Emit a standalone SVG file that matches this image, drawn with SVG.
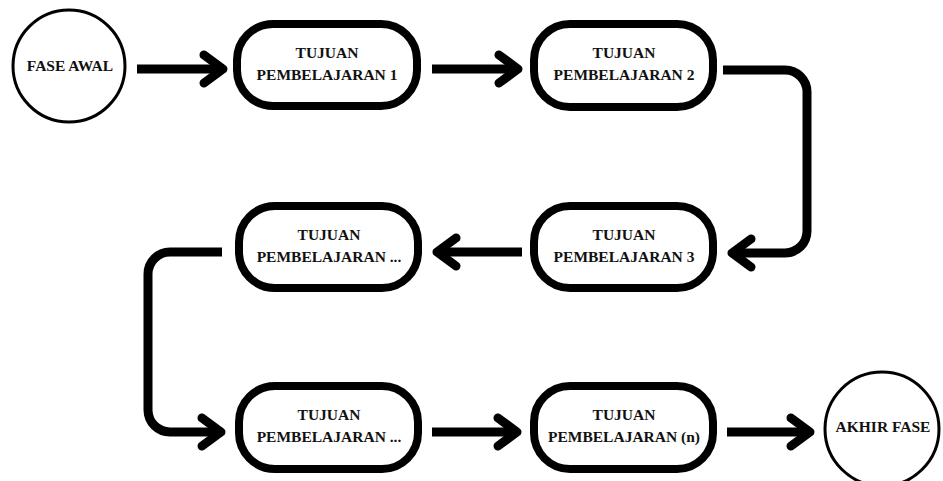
<svg xmlns="http://www.w3.org/2000/svg" width="943" height="481" viewBox="0 0 943 481">
  <style>
    .box { fill: #fff; stroke: #000; stroke-width: 8; }
    .circ { fill: #fff; stroke: #000; stroke-width: 3; }
    .lbl { font-weight: bold; font-size: 15.5px; fill: #111; text-anchor: middle; }
    .conn { fill: none; stroke: #000; stroke-width: 9; stroke-linejoin: round; marker-end: url(#chev); }
  </style>
  <defs>
    <marker id="chev" markerUnits="userSpaceOnUse" markerWidth="60" markerHeight="60" viewBox="-30 -30 60 60" refX="0" refY="0" orient="auto" overflow="visible">
      <path d="M-19,-14 L0,0 L-19,14" fill="none" stroke="#000" stroke-width="9" stroke-linecap="round" stroke-linejoin="round"/>
    </marker>
  </defs>
  <rect width="943" height="481" fill="#fff"/>

  <g id="connectors">
    <path class="conn" d="M137,69 H223"/>
    <path class="conn" d="M432,69 H518"/>
    <path class="conn" d="M723,70 H785 A22,22 0 0 1 807,92 V231 A22,22 0 0 1 785,253 H732"/>
    <path class="conn" d="M522,252 H437"/>
    <path class="conn" d="M222,252 H170 A22,22 0 0 0 148,274 V410 A22,22 0 0 0 170,432 H221"/>
    <path class="conn" d="M432,432 H517"/>
    <path class="conn" d="M727,432 H810"/>
  </g>

  <g font-family="'Liberation Serif', 'Times New Roman', serif">
  <g id="fase-awal">
    <circle class="circ" cx="69" cy="66" r="56"/>
    <text class="lbl" x="70" y="71">FASE AWAL</text>
  </g>

  <g id="tp1">
    <rect class="box" x="237" y="24" width="180" height="82" rx="36"/>
    <text class="lbl" x="327" y="58">TUJUAN</text>
    <text class="lbl" x="327" y="80">PEMBELAJARAN 1</text>
  </g>

  <g id="tp2">
    <rect class="box" x="534" y="24" width="179" height="83" rx="36"/>
    <text class="lbl" x="624" y="58">TUJUAN</text>
    <text class="lbl" x="624" y="80">PEMBELAJARAN 2</text>
  </g>

  <g id="tp3">
    <rect class="box" x="534" y="206" width="179" height="82" rx="36"/>
    <text class="lbl" x="624" y="240">TUJUAN</text>
    <text class="lbl" x="624" y="262">PEMBELAJARAN 3</text>
  </g>

  <g id="tp-dots-1">
    <rect class="box" x="239" y="206" width="179" height="82" rx="36"/>
    <text class="lbl" x="329" y="240">TUJUAN</text>
    <text class="lbl" x="329" y="262">PEMBELAJARAN ...</text>
  </g>

  <g id="tp-dots-2">
    <rect class="box" x="239" y="386" width="179" height="83" rx="36"/>
    <text class="lbl" x="329" y="420">TUJUAN</text>
    <text class="lbl" x="329" y="442">PEMBELAJARAN ...</text>
  </g>

  <g id="tp-n">
    <rect class="box" x="534" y="386" width="179" height="83" rx="36"/>
    <text class="lbl" x="624" y="420">TUJUAN</text>
    <text class="lbl" x="624" y="442">PEMBELAJARAN (n)</text>
  </g>

  <g id="akhir-fase">
    <circle class="circ" cx="882" cy="429" r="57"/>
    <text class="lbl" x="883" y="432">AKHIR FASE</text>
  </g>
  </g>
</svg>
